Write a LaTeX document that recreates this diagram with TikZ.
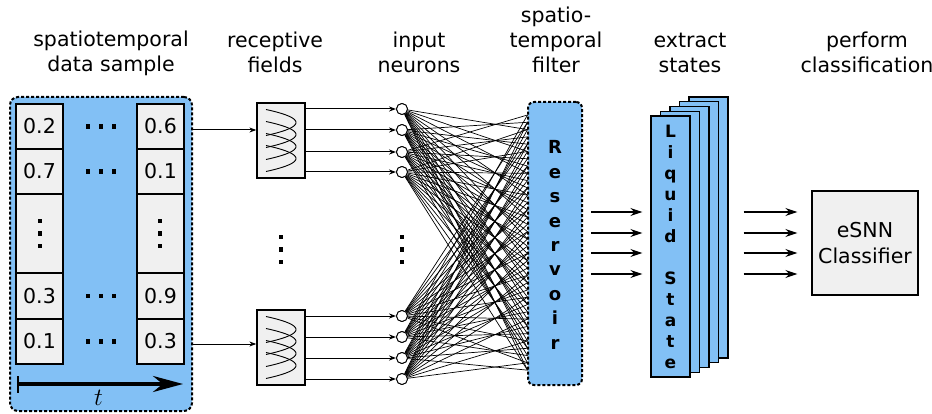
\documentclass[tikz,border=0pt]{standalone}
\usepackage{fontspec}
\setmainfont{DejaVu Sans}
\usetikzlibrary{arrows.meta}
\definecolor{cblue}{HTML}{82C0F5}
\definecolor{cgray}{HTML}{F0F0F0}
\begin{document}
\begin{tikzpicture}[x=1pt,y=-1pt,
  lbl/.style={anchor=base,inner sep=0pt,font=\fontsize{20.5}{25}\selectfont},
  cell/.style={draw,line width=1.3pt,fill=cgray,minimum width=47pt,inner sep=0pt,font=\fontsize{20.5}{25}\selectfont},
  dbox/.style={draw,line width=2pt,dash pattern=on 3pt off 2pt,fill=cblue,inner sep=0pt},
  rfbox/.style={draw,line width=1.3pt,fill=cgray,minimum width=48pt,minimum height=75pt,inner sep=0pt},
  neuron/.style={draw,circle,line width=0.9pt,fill=white,minimum size=11pt,inner sep=0pt},
  smallarr/.style={line width=1pt,-{Stealth[length=7pt,width=5pt]}},
  bigarr/.style={line width=1.4pt,-{Stealth[length=12pt,width=8pt]}},
  syn/.style={line width=0.7pt},
  layer/.style={draw,line width=1.3pt,fill=cblue,inner sep=0pt,minimum width=39pt,minimum height=261pt}
]
\useasboundingbox (0,0) rectangle (932,414);

% ---------- labels ----------
\node[lbl] (l1a) at (111,47) {spatiotemporal};
\node[lbl] (l1b) at (111,72) {data sample};
\node[lbl] (l2a) at (275,48) {receptive};
\node[lbl] (l2b) at (275,73) {fields};
\node[lbl] (l3a) at (419,48) {input};
\node[lbl] (l3b) at (419,73) {neurons};
\node[lbl] (l4a) at (556,23) {spatio-};
\node[lbl] (l4b) at (556,48) {temporal};
\node[lbl] (l4c) at (556,73) {filter};
\node[lbl] (l5a) at (690,48) {extract};
\node[lbl] (l5b) at (690,73) {states};
\node[lbl] (l6a) at (867,48) {perform};
\node[lbl] (l6b) at (867,73) {classification};

% ---------- data sample ----------
\node[dbox,rounded corners=8pt,minimum width=182pt,minimum height=314pt] (data) at (101,254) {};
\node[cell,minimum height=45pt] (c11) at (39.5,126.5) {0.2};
\node[cell,minimum height=45pt] (c12) at (39.5,171.5) {0.7};
\node[cell,minimum height=79pt] (c13) at (39.5,233.5) {};
\node[cell,minimum height=46pt] (c14) at (39.5,296) {0.3};
\node[cell,minimum height=45pt] (c15) at (39.5,341.5) {0.1};
\node[cell,minimum height=45pt] (c21) at (160.5,126.5) {0.6};
\node[cell,minimum height=45pt] (c22) at (160.5,171.5) {0.1};
\node[cell,minimum height=79pt] (c23) at (160.5,233.5) {};
\node[cell,minimum height=46pt] (c24) at (160.5,296) {0.9};
\node[cell,minimum height=45pt] (c25) at (160.5,341.5) {0.3};
% horizontal dots
\foreach \yy in {126.5,171.5,296,341.5}
  \foreach \xx in {88,101,114}
    \fill ({\xx-2.2},{\yy-2.2}) rectangle ({\xx+2.2},{\yy+2.2});
% vertical dots
\foreach \xx/\yb in {40/221,160/221,281/237,402/237}
  \foreach \yy in {0,12.5,25}
    \fill ({\xx-2.2},{\yy+\yb-2.2}) rectangle ({\xx+2.2},{\yy+\yb+2.2});
% time arrow
\coordinate (ts) at (17,384);
\coordinate (te) at (183,384);
\draw[line width=3.5pt,{Bar[width=17pt,line width=2pt]}-{Stealth[length=30pt,width=16pt]}] (ts) -- (te);
\node[inner sep=0pt,font=\fontsize{24}{28}\selectfont] (tl) at (98.5,398) {$t$};

% ---------- receptive fields ----------
\node[rfbox] (rf1) at (281,140.5) {};
\node[rfbox] (rf2) at (281,347.5) {};
\foreach \cy in {122.5,134.5,146.5,158.5,329.5,341.5,353.5,365.5}
  \draw[line width=0.9pt] plot[domain=-13:13,samples=30,smooth] ({266+30*(1-(\x/13)^2)},{\cy+\x});
\coordinate (in1) at (255,130);
\coordinate (in2) at (255,344);
\draw[smallarr] (data.east |- in1) -- (rf1.west |- in1);
\draw[smallarr] (data.east |- in2) -- (rf2.west |- in2);

% ---------- input neurons ----------
\foreach \i/\yy in {1/109,2/130,3/152,4/172,5/316,6/337,7/358,8/379}
  \node[neuron] (n\i) at (402,\yy) {};

% ---------- reservoir ----------
\node[dbox,rounded corners=6pt,minimum width=54pt,minimum height=283pt] (res) at (555,243.5) {};
\node[inner sep=0pt,align=center,font=\fontsize{18}{24.4}\selectfont\bfseries] (restxt) at (555,245)
  {R\\e\\s\\e\\r\\v\\o\\i\\r};
\foreach \j in {0,...,35}
  \coordinate (e\j) at ([xshift=0.5pt]res.west |- 0,{115+\j*7.29});
\foreach \i in {1,...,8}
  \foreach \j in {0,...,35}{
    \pgfmathtruncatemacro{\mm}{mod(\j+\i,3)}
    \ifnum\mm=0 \draw[syn] (n\i) -- (e\j); \fi
  }
\foreach \i in {1,...,4}
  \draw[smallarr] (rf1.east |- n\i) -- (n\i);
\foreach \i in {5,...,8}
  \draw[smallarr] (rf2.east |- n\i) -- (n\i);
\foreach \i in {1,...,8}
  \node[neuron] (m\i) at (n\i) {};

% ---------- liquid states ----------
\foreach \k in {4,3,2,1}
  \node[layer] (ls\k) at ({670.5+9.5*\k},{246.5-4.75*\k}) {};
\node[layer] (ls0) at (670.5,246.5) {};
\node[inner sep=0pt,align=center,font=\fontsize{17}{21}\selectfont\bfseries] (lstxt) at (670.5,247)
  {L\\i\\q\\u\\i\\d\\\mbox{}\\S\\t\\a\\t\\e};
\foreach \yy in {212,233,253,274}
  \draw[bigarr] ([xshift=8pt]res.east |- 0,\yy) -- ([xshift=-8pt]ls0.west |- 0,\yy);

% ---------- classifier ----------
\node[draw,line width=1.3pt,fill=cgray,minimum width=106pt,minimum height=104pt,inner sep=0pt,
  align=center,font=\fontsize{20.5}{26}\selectfont] (cls) at (865,243) {eSNN\\Classifier};
\foreach \yy in {212,233,253,274}
  \draw[bigarr] ([xshift=15pt]ls4.east |- 0,\yy) -- ([xshift=-14pt]cls.west |- 0,\yy);
\end{tikzpicture}
\end{document}
